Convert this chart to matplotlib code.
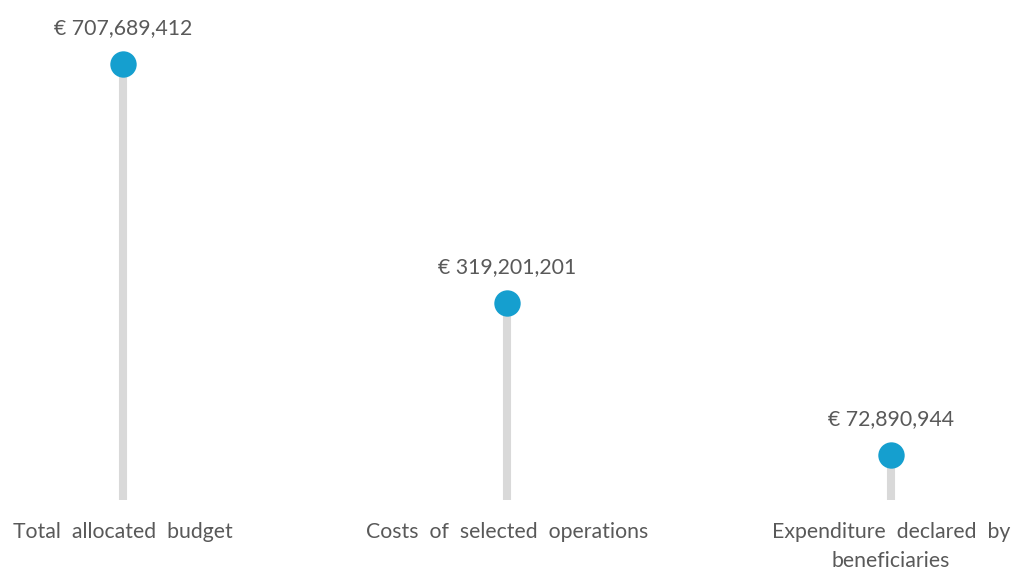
import matplotlib.pyplot as plt

# data
categories = ['Total  allocated  budget', 'Costs  of  selected  operations',
              'Expenditure  declared  by\nbeneficiaries']
values = [707689412, 319201201, 72890944]
value_labels = ['€ 707,689,412', '€ 319,201,201', '€ 72,890,944']

plt.rcParams['font.family'] = ['Lato', 'DejaVu Sans']
text_color = '#595959'

fig = plt.figure(figsize=(10.17, 5.70), dpi=100)
ax = fig.add_axes([0, 0.1228, 1, 0.865])

x = list(range(len(values)))
ax.vlines(x, 0, values, color='#d9d9d9', linewidth=5.8, zorder=1)
ax.plot(x, values, 'o', color='#159fcf', markersize=19, markeredgewidth=0, zorder=2)

for xi, v, lab in zip(x, values, value_labels):
    ax.annotate(lab, (xi, v), xytext=(0, 26), textcoords='offset points',
                ha='center', va='center', fontsize=15.3, color=text_color)

for xi, cat in zip(x, categories):
    ax.annotate(cat, (xi, 0), xytext=(0, -16), textcoords='offset points',
                ha='center', va='top', fontsize=15.3, color=text_color,
                linespacing=1.55)

ax.set_xlim(-123 / 384, (1017 - 123) / 384)
ax.set_ylim(0, 800e6)
ax.axis('off')

fig.savefig('out.png', dpi=100)
